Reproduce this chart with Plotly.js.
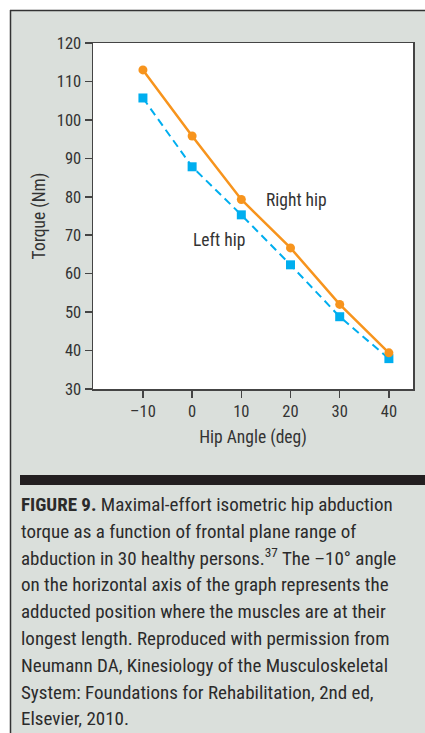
<!DOCTYPE html>
<html>
<head>
<meta charset="utf-8">
<script src="https://cdn.plot.ly/plotly-3.0.1.min.js"></script>
<style>
html,body{margin:0;padding:0;background:#fff;}
#chart{width:425px;height:733px;}
</style>
</head>
<body>
<div id="chart"></div>
<script>
// ---- data ----
var hipAngles = [-10, 0, 10, 20, 30, 40];
var rightHipTorque = [113, 95.8, 79.3, 66.7, 52, 39.4];
var leftHipTorque = [105.7, 87.8, 75.3, 62.3, 48.8, 37.9];
var xTickVals = [-10, 0, 10, 20, 30, 40];
var xTickText = ['\u201310', '0', '10', '20', '30', '40'];
var yTickVals = [30, 40, 50, 60, 70, 80, 90, 100, 110, 120];
var captionLines = [
  '<b>FIGURE 9.</b> Maximal-effort isometric hip abduction',
  'torque as a function of frontal plane range of',
  'abduction in 30 healthy persons.<sup>37</sup> The \u201310\u00b0 angle',
  'on the horizontal axis of the graph represents the',
  'adducted position where the muscles are at their',
  'longest length. Reproduced with permission from',
  'Neumann DA, Kinesiology of the Musculoskeletal',
  'System: Foundations for Rehabilitation, 2nd ed,',
  'Elsevier, 2010.'
];

// ---- layout geometry (pixels) ----
var W = 425, H = 733;
var mL = 93, mR = 12, mT = 43, mB = 344;
var pw = W - mL - mR, ph = H - mT - mB;
function px2x(x) { return (x - mL) / pw; }
function px2y(y) { return 1 - (y - mT) / ph; }

var FONT = '"Roboto Condensed", "Liberation Sans Narrow", "DejaVu Sans Condensed", sans-serif';
var gray = '#dadfdb';
var dark = '#333333';

var traces = [
  {
    x: hipAngles, y: leftHipTorque, type: 'scatter', mode: 'lines+markers',
    name: 'Left hip',
    line: {color: '#00aeef', width: 2, dash: '8px,5px'},
    marker: {symbol: 'square', size: 9, color: '#00aeef'},
    hoverinfo: 'x+y'
  },
  {
    x: hipAngles, y: rightHipTorque, type: 'scatter', mode: 'lines+markers',
    name: 'Right hip',
    line: {color: '#f7941d', width: 2.5},
    marker: {symbol: 'circle', size: 9, color: '#f7941d'},
    hoverinfo: 'x+y'
  }
];

var annotations = [
  {x: 21.3, y: 79.2, xref: 'x', yref: 'y', text: 'Right hip', showarrow: false,
   font: {family: FONT, size: 17.5, color: dark}, xanchor: 'center', yanchor: 'middle'},
  {x: 5.5, y: 68.75, xref: 'x', yref: 'y', text: 'Left hip', showarrow: false,
   font: {family: FONT, size: 17.5, color: dark}, xanchor: 'center', yanchor: 'middle'}
];
captionLines.forEach(function (t, i) {
  annotations.push({
    x: px2x(19), y: px2y(505 + 26.8 * i + 13), xref: 'paper', yref: 'paper',
    text: t, showarrow: false, xanchor: 'left', yanchor: 'bottom', align: 'left',
    font: {family: FONT, size: 19, color: '#2b2b2b'}
  });
});

var shapes = [
  // white strips above and left of the grey panel
  {type: 'rect', xref: 'paper', yref: 'paper', x0: px2x(-5), x1: px2x(W + 5), y0: px2y(-5), y1: px2y(10),
   fillcolor: '#ffffff', line: {width: 0}, layer: 'below'},
  {type: 'rect', xref: 'paper', yref: 'paper', x0: px2x(-5), x1: px2x(10), y0: px2y(-5), y1: px2y(H + 5),
   fillcolor: '#ffffff', line: {width: 0}, layer: 'below'},
  // panel border
  {type: 'line', xref: 'paper', yref: 'paper', x0: px2x(10), x1: px2x(W + 5), y0: px2y(10.5), y1: px2y(10.5),
   line: {color: dark, width: 1.5}},
  {type: 'line', xref: 'paper', yref: 'paper', x0: px2x(10.5), x1: px2x(10.5), y0: px2y(10), y1: px2y(H + 5),
   line: {color: dark, width: 1.5}},
  // black divider bar
  {type: 'rect', xref: 'paper', yref: 'paper', x0: px2x(20), x1: px2x(W + 5), y0: px2y(475), y1: px2y(485),
   fillcolor: '#231f20', line: {width: 0}}
];

var layout = {
  width: W, height: H,
  margin: {l: mL, r: mR, t: mT, b: mB, pad: 0},
  paper_bgcolor: gray,
  plot_bgcolor: '#ffffff',
  showlegend: false,
  font: {family: FONT, color: dark},
  xaxis: {
    range: [-20.15, 44.9],
    tickvals: xTickVals, ticktext: xTickText,
    ticks: 'outside', ticklen: 7, tickwidth: 1.5, tickcolor: '#444',
    showline: true, linecolor: '#444', linewidth: 1.5, mirror: true,
    showgrid: false, zeroline: false,
    tickfont: {family: FONT, size: 16.5, color: dark},
    title: {text: 'Hip Angle (deg)', font: {family: FONT, size: 17.5, color: dark}, standoff: 10}
  },
  yaxis: {
    range: [30, 120],
    tickvals: yTickVals,
    ticks: 'outside', ticklen: 7, tickwidth: 1.5, tickcolor: '#444',
    showline: true, linecolor: '#444', linewidth: 1.5, mirror: true,
    showgrid: false, zeroline: false,
    tickfont: {family: FONT, size: 16.5, color: dark},
    title: {text: 'Torque (Nm)', font: {family: FONT, size: 17.5, color: dark}, standoff: 6}
  },
  shapes: shapes,
  annotations: annotations
};

Plotly.newPlot('chart', traces, layout, {displayModeBar: false, staticPlot: true});
</script>
</body>
</html>
